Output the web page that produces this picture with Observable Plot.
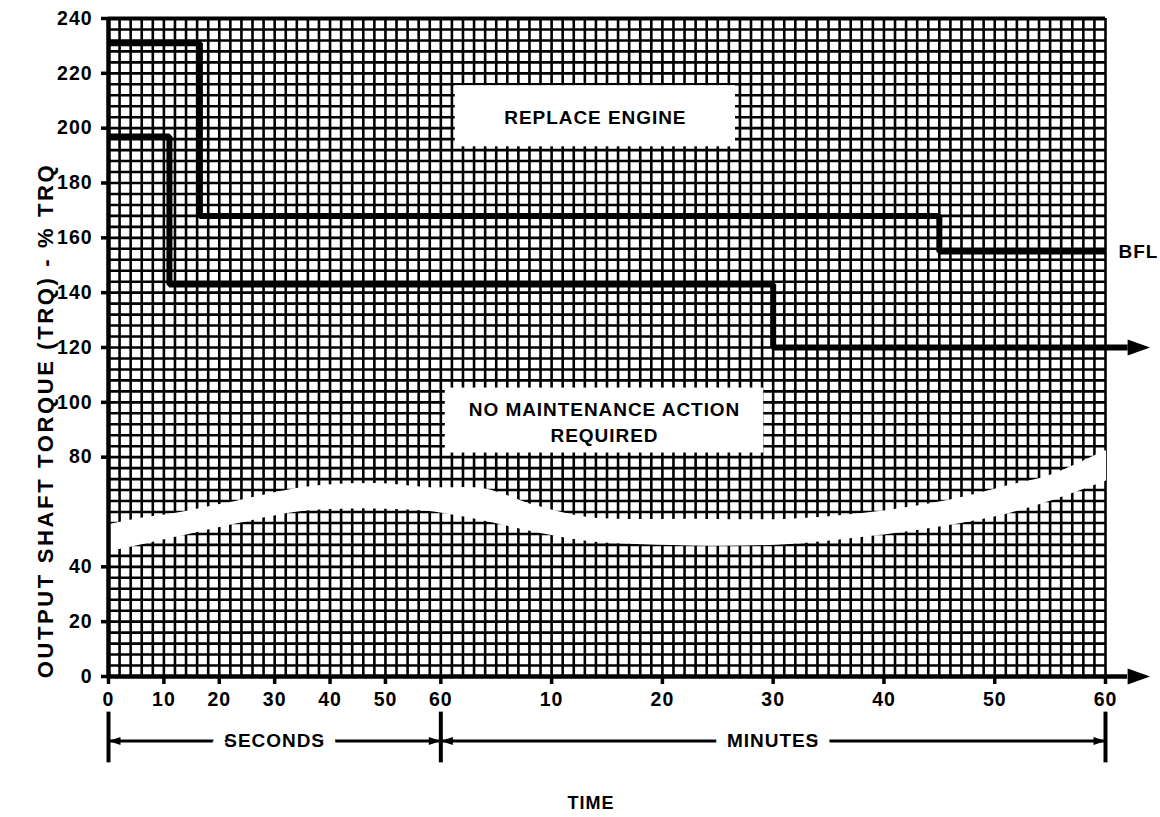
<!DOCTYPE html>
<html>
<head>
<meta charset="utf-8">
<script src="https://cdn.jsdelivr.net/npm/d3@7"></script>
<script src="https://cdn.jsdelivr.net/npm/@observablehq/plot@0.6"></script>
<style>
  html, body { margin: 0; padding: 0; background: #fff; }
  #chart { width: 1160px; height: 817px; overflow: hidden; }
</style>
</head>
<body>
<div id="chart"></div>
<script>
// ---------- data ----------
// x axis: 0-60 seconds, then 0-60 minutes (minutes drawn at twice the seconds scale)
const secondsTicks = [0, 10, 20, 30, 40, 50, 60];
const minutesTicks = [10, 20, 30, 40, 50, 60];
const torqueTicks = [0, 20, 40, 80, 100, 120, 140, 160, 180, 200, 220, 240];

// upper limit line (BFL)
const bflTime   = [0, 16.5, 16.5, 45, 45, 60];
const bflUnit   = ["s", "s", "s", "m", "m", "m"];
const bflTorque = [231, 231, 168, 168, 155, 155];

// lower limit line (continues with an arrow)
const lowTime   = [0, 11, 11, 30, 30, 62];
const lowUnit   = ["s", "s", "s", "m", "m", "m"];
const lowTorque = [197, 197, 143, 143, 120, 120];

// axis break band (white wavy strip)
const breakTime   = [0, 5, 13, 23, 35, 48, 58, 4, 8.5, 13.5, 22.5, 31.5, 40, 46, 51.5, 55, 60];
const breakUnit   = ["s","s","s","s","s","s","s","m","m","m","m","m","m","m","m","m","m"];
const breakTop    = [55, 57, 59.5, 63.5, 68.5, 70, 68.5, 68, 62, 57.5, 57, 57, 60, 64, 69.5, 73, 82];
const breakBottom = [46, 48, 51.5, 56, 60.5, 61.5, 60.5, 57, 53, 49.5, 48, 48.5, 52, 55.5, 60, 64.3, 71.6];

// region labels with their white boxes (minutes, torque)
const regionText   = ["REPLACE ENGINE", "NO MAINTENANCE ACTION\nREQUIRED"];
const regionFromM  = [1.3, 0.4];
const regionToM    = [26.6, 29.15];
const regionLowT   = [193.2, 81.5];
const regionHighT  = [215.5, 105.2];

const spanLabels = ["SECONDS", "MINUTES"];
const spanUnits  = ["s", "m"];
const spanStart  = [0, 0];
const spanEnd    = [60, 60];

const yLabel = "OUTPUT SHAFT TORQUE (TRQ) - % TRQ";
const xLabel = "TIME";
const bflLabel = "BFL";

// ---------- helpers ----------
const pos = (t, u) => (u === "s" ? t : 60 + 2 * t);
const pts = (T, U, V) => T.map((t, i) => ({x: pos(t, U[i]), y: V[i]}));

const bflPts = pts(bflTime, bflUnit, bflTorque);
const lowPts = pts(lowTime, lowUnit, lowTorque);
const breakPts = breakTime.map((t, i) => ({x: pos(t, breakUnit[i]), hi: breakTop[i], lo: breakBottom[i]}));
const boxes = regionText.map((text, i) => ({
  text,
  x1: pos(regionFromM[i], "m"), x2: pos(regionToM[i], "m"),
  y1: regionLowT[i], y2: regionHighT[i]
}));
const spans = spanLabels.map((label, i) => ({
  label, from: pos(spanStart[i], spanUnits[i]), to: pos(spanEnd[i], spanUnits[i])
}));

const xTickPos = [...secondsTicks.map(s => pos(s, "s")), ...minutesTicks.map(m => pos(m, "m"))];
const xTickLab = [...secondsTicks, ...minutesTicks].map(String);
const xTickMap = new Map(xTickPos.map((p, i) => [p, xTickLab[i]]));

// grid: every 2 s, every 1 min, every 4 % torque
const vGrid = [...d3.range(0, 61, 2).map(s => pos(s, "s")), ...d3.range(1, 61).map(m => pos(m, "m"))];
const hGrid = d3.range(0, 241, 4);

const xEnd = pos(60, "m");
const axisArrowBase = pos(62, "m");

// arrowhead symbols
const arrowFromBase = (ratio) => ({
  draw(ctx, size) {
    const r = Math.sqrt(size / Math.PI), L = ratio * r;
    ctx.moveTo(L, 0); ctx.lineTo(0, -r); ctx.lineTo(0, r); ctx.closePath();
  }
});
const arrowAtTip = (ratio) => ({
  draw(ctx, size) {
    const r = Math.sqrt(size / Math.PI), L = ratio * r;
    ctx.moveTo(0, 0); ctx.lineTo(-L, -r); ctx.lineTo(-L, r); ctx.closePath();
  }
});

const dimRow = -23.5, barTop = -13, barBottom = -31.5;

const chart = Plot.plot({
  width: 1160,
  height: 817,
  marginLeft: 108,
  marginRight: 55,
  marginTop: 18,
  marginBottom: 141,
  x: {domain: [0, 180]},
  y: {domain: [0, 240]},
  style: {
    fontFamily: "'Liberation Sans', Arial, Helvetica, sans-serif",
    fontWeight: "bold",
    fontSize: "19px",
    letterSpacing: "0.05em",
    color: "black",
    background: "white",
    overflow: "visible"
  },
  marks: [
    // grid
    Plot.ruleX(vGrid, {x: d => d, y1: 0, y2: 240, stroke: "black", strokeWidth: 2.6}),
    Plot.ruleY(hGrid, {y: d => d, x1: 0, x2: xEnd, stroke: "black", strokeWidth: 2.6}),
    Plot.ruleY([240], {x1: 0, x2: xEnd, stroke: "black", strokeWidth: 4}),
    // axis break
    Plot.areaY(breakPts, {x: "x", y1: "lo", y2: "hi", fill: "white", stroke: "white", strokeWidth: 2, curve: "catmull-rom"}),
    // label boxes
    Plot.rect(boxes, {x1: "x1", x2: "x2", y1: "y1", y2: "y2", fill: "white"}),
    // axes lines
    Plot.ruleX([0], {y1: 0, y2: 240, stroke: "black", strokeWidth: 4.5}),
    Plot.ruleY([0], {x1: 0, x2: axisArrowBase, stroke: "black", strokeWidth: 4.5}),
    Plot.dot([{x: axisArrowBase, y: 0}], {x: "x", y: "y", symbol: arrowFromBase(2.8), r: 8, fill: "black", stroke: null}),
    // limit lines
    Plot.line(bflPts, {x: "x", y: "y", stroke: "black", strokeWidth: 6, strokeLinejoin: "miter", strokeLinecap: "butt"}),
    Plot.line(lowPts, {x: "x", y: "y", stroke: "black", strokeWidth: 6, strokeLinejoin: "miter", strokeLinecap: "butt"}),
    Plot.dot([lowPts[lowPts.length - 1]], {x: "x", y: "y", symbol: arrowFromBase(2.8), r: 8, fill: "black", stroke: null}),
    Plot.text([bflPts[bflPts.length - 1]], {x: "x", y: "y", text: () => bflLabel, textAnchor: "start", dx: 13, fontSize: 19}),
    // region labels
    Plot.text(boxes, {x: d => (d.x1 + d.x2) / 2, y: d => (d.y1 + d.y2) / 2, text: "text", fontSize: 19, lineHeight: 1.35}),
    // axes
    Plot.axisY({ticks: torqueTicks, tickSize: 7, tickPadding: 9, fontSize: 19.5, strokeWidth: 3.5, label: null}),
    Plot.axisX({ticks: xTickPos, tickFormat: d => xTickMap.get(d), tickSize: 8, tickPadding: 8, fontSize: 19.5, strokeWidth: 3.5, label: null}),
    // axis titles
    Plot.text([yLabel], {frameAnchor: "left", textAnchor: "middle", text: d => d, rotate: -90, dx: -63, dy: 73, fontSize: 22, style: "letter-spacing: 0.12em"}),
    Plot.text([xLabel], {frameAnchor: "bottom", textAnchor: "middle", text: d => d, dx: -16, dy: 132, fontSize: 18}),
    // seconds / minutes dimension lines
    Plot.ruleX([...new Set(spans.flatMap(s => [s.from, s.to]))], {x: d => d, y1: barTop, y2: barBottom, stroke: "black", strokeWidth: 4}),
    Plot.ruleY(spans, {y: () => dimRow, x1: "from", x2: "to", stroke: "black", strokeWidth: 3}),
    Plot.dot(spans, {x: "from", y: () => dimRow, symbol: arrowAtTip(3), r: 4, rotate: 180, fill: "black", stroke: null}),
    Plot.dot(spans, {x: "to", y: () => dimRow, symbol: arrowAtTip(3), r: 4, fill: "black", stroke: null}),
    Plot.text(spans, {x: d => (d.from + d.to) / 2, y: () => dimRow, text: "label", fontSize: 19, stroke: "white", strokeWidth: 24, fill: "black"})
  ]
});

// widen the rotated axis title a little, as in the scan
chart.querySelectorAll("text").forEach(t => {
  if (t.textContent === yLabel) t.style.letterSpacing = "0.12em";
});

document.getElementById("chart").appendChild(chart);
</script>
</body>
</html>
